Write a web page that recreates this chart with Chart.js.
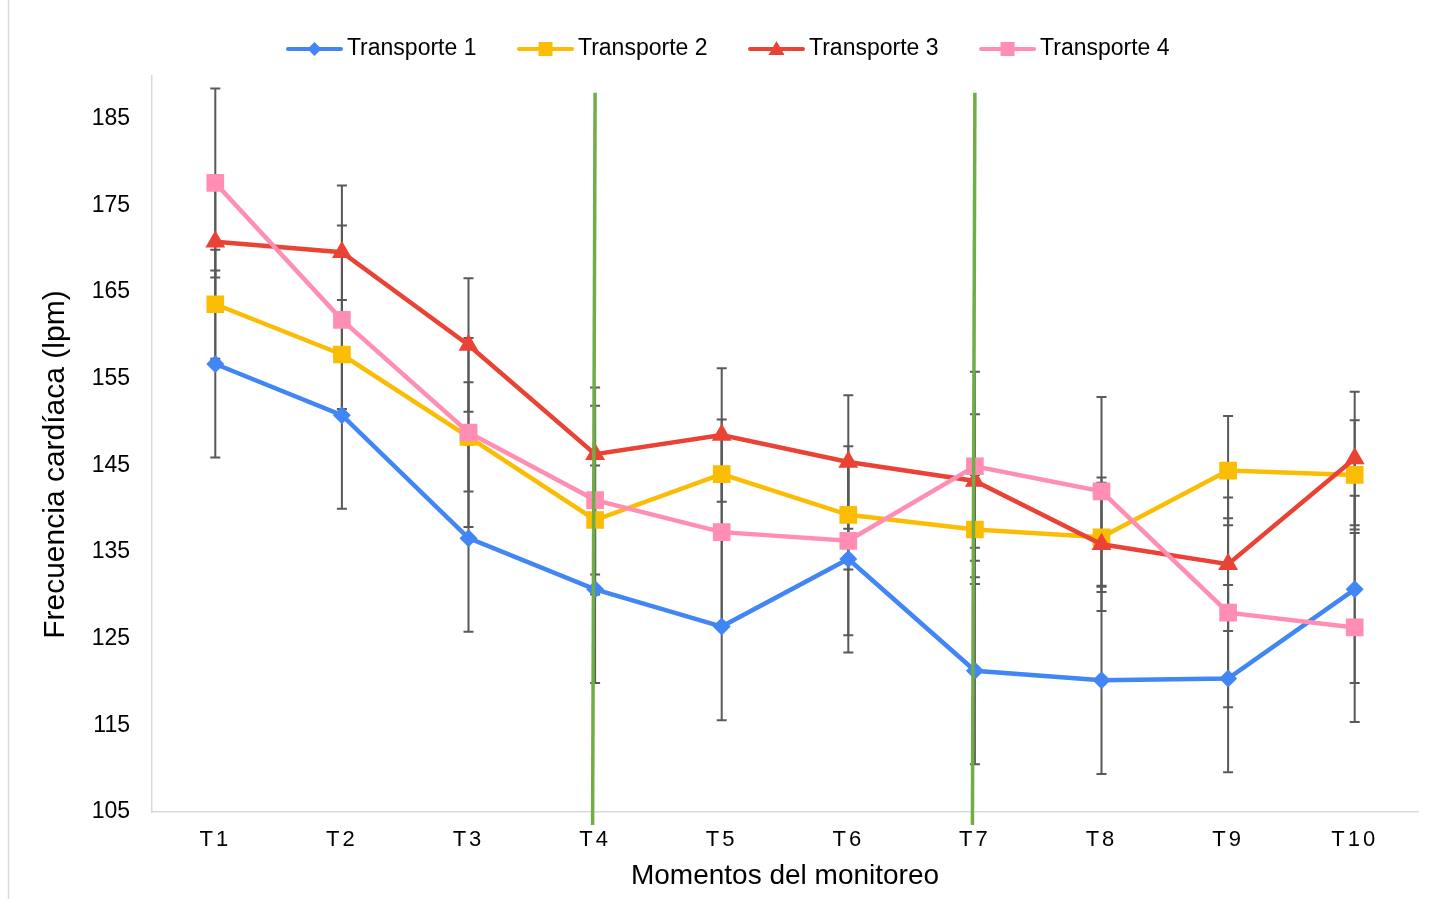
<!DOCTYPE html>
<html>
<head>
<meta charset="utf-8">
<script src="https://cdn.jsdelivr.net/npm/chart.js@4.4.1/dist/chart.umd.min.js"></script>
<style>
  html, body { margin: 0; padding: 0; background: #fff; }
  #chart { display: block; }
</style>
</head>
<body>
<canvas id="chart" width="1435" height="899"></canvas>
<script>
const categories = ['T1', 'T2', 'T3', 'T4', 'T5', 'T6', 'T7', 'T8', 'T9', 'T10'];

const transporte1 = [156.7, 150.8, 136.6, 130.7, 126.4, 134.2, 121.3, 120.2, 120.4, 130.7];
const transporte2 = [163.6, 157.8, 148.3, 138.7, 144.0, 139.3, 137.6, 136.7, 144.4, 143.9];
const transporte3 = [170.8, 169.6, 158.9, 146.3, 148.5, 145.4, 143.2, 135.9, 133.6, 145.8];
const transporte4 = [177.6, 161.8, 148.8, 141.0, 137.3, 136.3, 144.9, 142.0, 128.0, 126.3];

// error bars (same size at every moment)
const error1 = [10.8, 10.8, 10.8, 10.8, 10.8, 10.8, 10.8, 10.8, 10.8, 10.8];
const error2 = [6.3, 6.3, 6.3, 6.3, 6.3, 6.3, 6.3, 6.3, 6.3, 6.3];
const error3 = [7.7, 7.7, 7.7, 7.7, 7.7, 7.7, 7.7, 7.7, 7.7, 7.7];
const error4 = [10.9, 10.9, 10.9, 10.9, 10.9, 10.9, 10.9, 10.9, 10.9, 10.9];

const yTicks = [105, 115, 125, 135, 145, 155, 165, 175, 185];
const markedMoments = ['T4', 'T7'];
const markLineTop = 188;

const FONT = "'Liberation Sans', Arial, sans-serif";
Chart.defaults.font.family = FONT;

const series = [
  { label: 'Transporte 1', data: transporte1, err: error1, color: '#4285F4', shape: 'rectRot', radius: 9 },
  { label: 'Transporte 2', data: transporte2, err: error2, color: '#FBBC04', shape: 'rect', radius: 12.5 },
  { label: 'Transporte 3', data: transporte3, err: error3, color: '#EA4335', shape: 'triangle', radius: 11.5 },
  { label: 'Transporte 4', data: transporte4, err: error4, color: '#FF8DB4', shape: 'rect', radius: 12.5 },
];

// small line + marker picture for the legend
function legendIcon(color, shape) {
  const c = document.createElement('canvas');
  c.width = 81;
  c.height = 20;
  const g = c.getContext('2d');
  g.strokeStyle = color;
  g.fillStyle = color;
  g.lineWidth = 4;
  g.lineCap = 'round';
  g.beginPath();
  g.moveTo(26, 10);
  g.lineTo(79, 10);
  g.stroke();
  const cx = 52.5, cy = 10;
  g.beginPath();
  if (shape === 'rectRot') {
    g.moveTo(cx, cy - 7); g.lineTo(cx + 7, cy); g.lineTo(cx, cy + 7); g.lineTo(cx - 7, cy);
  } else if (shape === 'triangle') {
    g.moveTo(cx, cy - 8); g.lineTo(cx + 8, cy + 6); g.lineTo(cx - 8, cy + 6);
  } else {
    g.rect(cx - 7, cy - 7, 14, 14);
  }
  g.closePath();
  g.fill();
  return c;
}
const icons = series.map((s) => legendIcon(s.color, s.shape));

const errorBars = {
  id: 'errorBars',
  beforeDatasetsDraw(chart) {
    const { ctx } = chart;
    const y = chart.scales.y;
    ctx.save();
    ctx.strokeStyle = '#595959';
    ctx.lineWidth = 2;
    series.forEach((s, i) => {
      const meta = chart.getDatasetMeta(i);
      meta.data.forEach((pt, j) => {
        const top = y.getPixelForValue(s.data[j] + s.err[j]);
        const bot = y.getPixelForValue(s.data[j] - s.err[j]);
        ctx.beginPath();
        ctx.moveTo(pt.x, top);
        ctx.lineTo(pt.x, bot);
        ctx.moveTo(pt.x - 5, top);
        ctx.lineTo(pt.x + 5, top);
        ctx.moveTo(pt.x - 5, bot);
        ctx.lineTo(pt.x + 5, bot);
        ctx.stroke();
      });
    });
    ctx.restore();
  },
};

const momentLines = {
  id: 'momentLines',
  afterDatasetsDraw(chart) {
    const { ctx, chartArea } = chart;
    const x = chart.scales.x;
    const y = chart.scales.y;
    ctx.save();
    ctx.strokeStyle = '#70AD47';
    ctx.lineWidth = 3.5;
    markedMoments.forEach((m) => {
      const px = x.getPixelForValue(categories.indexOf(m));
      ctx.beginPath();
      ctx.moveTo(px, y.getPixelForValue(markLineTop));
      ctx.lineTo(px - 2.5, chartArea.bottom + 13);
      ctx.stroke();
    });
    ctx.restore();
  },
};

const frame = {
  id: 'frame',
  beforeDraw(chart) {
    const { ctx, width, height } = chart;
    ctx.save();
    ctx.fillStyle = '#fff';
    ctx.fillRect(0, 0, width, height);
    ctx.strokeStyle = '#d9d9d9';
    ctx.lineWidth = 1.5;
    ctx.beginPath();
    ctx.moveTo(8.5, 0);
    ctx.lineTo(8.5, height);
    ctx.stroke();
    ctx.restore();
  },
};

const legendHeight = {
  id: 'legendHeight',
  beforeInit(chart) {
    const fit = chart.legend.fit;
    chart.legend.fit = function () {
      fit.call(this);
      this.height = 62;
    };
  },
};

// spaced lettering for the category labels
const spacedTicks = {
  id: 'spacedTicks',
  afterUpdate(chart) {
    const sx = chart.scales.x;
    if (sx._spaced) return;
    const draw = sx.drawLabels;
    sx.drawLabels = function (area) {
      const ctx = this.ctx;
      ctx.save();
      ctx.letterSpacing = '3px';
      draw.call(this, area);
      ctx.restore();
    };
    sx._spaced = true;
  },
};

new Chart(document.getElementById('chart'), {
  type: 'line',
  data: {
    labels: categories,
    datasets: series.map((s, i) => ({
      label: s.label,
      data: s.data,
      borderColor: s.color,
      backgroundColor: s.color,
      borderWidth: 4.5,
      tension: 0,
      pointStyle: s.shape,
      pointRadius: s.radius,
      pointBorderWidth: 0,
      pointBackgroundColor: s.color,
      order: series.length - i,
    })),
  },
  options: {
    responsive: false,
    animation: false,
    layout: { padding: { top: 13.5, left: 21, right: 17, bottom: 0 } },
    plugins: {
      tooltip: { enabled: false },
      legend: {
        position: 'top',
        labels: {
          usePointStyle: true,
          pointStyleWidth: 66,
          padding: 24,
          color: '#000',
          font: { size: 23, family: FONT },
          generateLabels: (chart) => chart.data.datasets.map((ds, i) => ({
            text: ds.label,
            pointStyle: icons[i],
            fillStyle: ds.borderColor,
            strokeStyle: ds.borderColor,
            lineWidth: 0,
            hidden: false,
            datasetIndex: i,
          })),
        },
      },
    },
    scales: {
      x: {
        type: 'category',
        offset: true,
        grid: { display: true, drawOnChartArea: false, drawTicks: false },
        border: { display: true, color: '#d9d9d9', width: 1.5 },
        ticks: { padding: 15, color: '#000', font: { size: 22 } },
        title: {
          display: true,
          text: 'Momentos del monitoreo',
          color: '#000',
          font: { size: 28 },
          padding: { top: 0, bottom: 6 },
        },
        afterFit: (scale) => { scale.height = 87; },
      },
      y: {
        min: 105,
        max: 190,
        afterBuildTicks: (scale) => { scale.ticks = yTicks.map((v) => ({ value: v })); },
        grid: { display: true, drawOnChartArea: false, drawTicks: false },
        border: { display: true, color: '#d9d9d9', width: 1.5 },
        ticks: { padding: 22, color: '#000', font: { size: 23 } },
        title: {
          display: true,
          text: 'Frecuencia cardíaca (lpm)     ',
          color: '#000',
          font: { size: 30 },
          padding: { top: 17, bottom: 0 },
        },
        afterFit: (scale) => { scale.width = 131; },
      },
    },
  },
  plugins: [frame, errorBars, momentLines, legendHeight, spacedTicks],
});
</script>
</body>
</html>
